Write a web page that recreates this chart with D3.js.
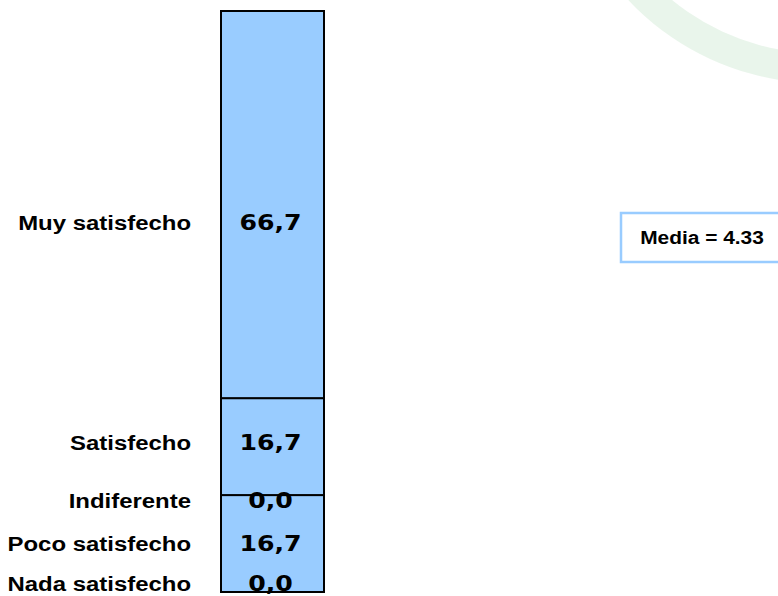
<!DOCTYPE html>
<html>
<head>
<meta charset="utf-8">
<script src="https://cdn.jsdelivr.net/npm/d3@7"></script>
<style>
  body { margin: 0; background: #fff; }
  svg { display: block; }
  .cat { font-family: "Liberation Sans", Arial, sans-serif; font-weight: bold; fill: #000; }
  .val { font-family: "DejaVu Sans", Verdana, sans-serif; font-weight: bold; fill: #000; }
  .media { font-family: "Liberation Sans", Arial, sans-serif; font-weight: bold; fill: #000; }
</style>
</head>
<body>
<div id="chart"></div>
<script>
// data, bottom to top of the stacked bar
const categories = ['Nada satisfecho', 'Poco satisfecho', 'Indiferente', 'Satisfecho', 'Muy satisfecho'];
const values = [0.0, 16.7, 0.0, 16.7, 66.7];
const mediaLabel = 'Media = 4.33';

// label placement tweaks (px) so the texts don't collide
const labelNudge = [-9, 0, 5, -4, 18];

let width = 778, height = 596;
let barColor = '#99ccff';

let svg = d3.select('#chart').append('svg')
  .attr('width', width)
  .attr('height', height);

// faint logo watermark at top right
let arc = d3.arc().innerRadius(233).outerRadius(263).startAngle(2.9).endAngle(4.25);
svg.append('path')
  .attr('d', arc())
  .attr('transform', 'translate(820,-180)')
  .attr('fill', '#e2f2e4')
  .attr('opacity', 0.75);

let total = d3.sum(values);
let y = d3.scaleLinear().domain([0, total]).range([592, 11]);
let x = d3.scaleBand().domain(['total']).range([221, 324]).padding(0);

let row = {};
categories.forEach((c, i) => row[c] = values[i]);
let series = d3.stack().keys(categories)([row]);

let fmt = v => d3.format('.1f')(v).replace('.', ',');

let g = svg.append('g');

g.selectAll('rect.seg')
  .data(series)
  .join('rect')
  .attr('class', 'seg')
  .attr('x', x('total'))
  .attr('width', x.bandwidth())
  .attr('y', d => y(d[0][1]))
  .attr('height', d => y(d[0][0]) - y(d[0][1]))
  .attr('fill', barColor)
  .attr('stroke', '#000')
  .attr('stroke-width', 2);

let mid = (d, i) => (y(d[0][0]) + y(d[0][1])) / 2 + labelNudge[i];

// value labels inside the bar
g.selectAll('g.val')
  .data(series)
  .join('g')
  .attr('transform', (d, i) => 'translate(' + (x('total') + x.bandwidth() / 2 - 2) + ',' + mid(d, i) + ') scale(1.2,1)')
  .append('text')
  .attr('class', 'val')
  .attr('text-anchor', 'middle')
  .attr('dy', '0.36em')
  .style('font-size', '21px')
  .text(d => fmt(d[0].data[d.key]));

// category labels on the left
g.selectAll('g.cat')
  .data(series)
  .join('g')
  .attr('transform', (d, i) => 'translate(191,' + mid(d, i) + ') scale(1.14,1)')
  .append('text')
  .attr('class', 'cat')
  .attr('text-anchor', 'end')
  .attr('dy', '0.36em')
  .style('font-size', '21px')
  .text(d => d.key);

// media box
svg.append('rect')
  .attr('x', 621)
  .attr('y', 213)
  .attr('width', 200)
  .attr('height', 49)
  .attr('fill', '#fff')
  .attr('stroke', barColor)
  .attr('stroke-width', 2.5);

svg.append('g')
  .attr('transform', 'translate(702,244) scale(1.1,1)')
  .append('text')
  .attr('class', 'media')
  .attr('text-anchor', 'middle')
  .style('font-size', '19px')
  .text(mediaLabel);
</script>
</body>
</html>
